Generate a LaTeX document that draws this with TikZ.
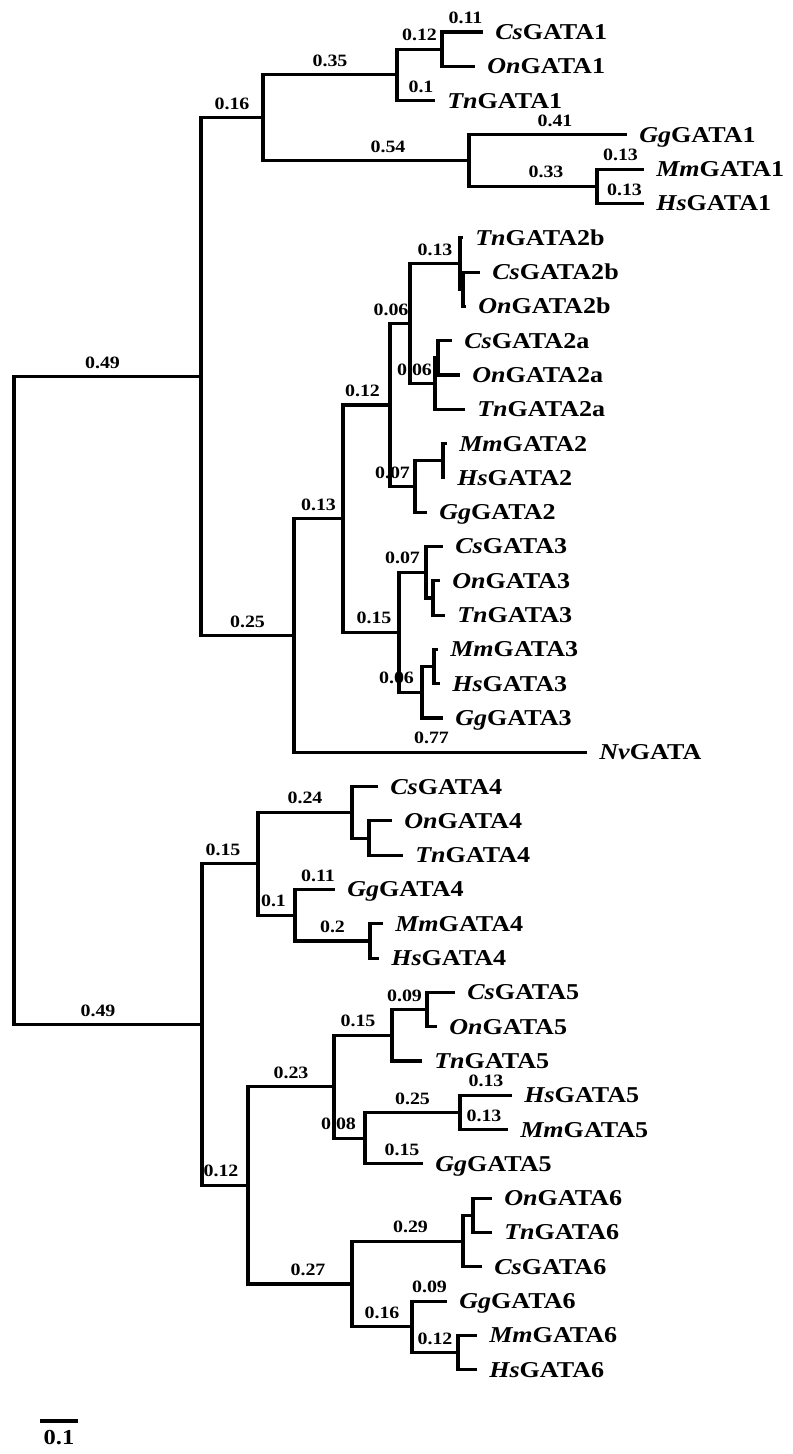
\documentclass[tikz,border=0pt]{standalone}
\usepackage{fontspec}
\setmainfont{Liberation Serif}[FakeStretch=1.15]
\usepackage{tikz}

\begin{document}
\begin{tikzpicture}[x=0.75pt,y=-0.75pt,
  br/.style={line width=2.3pt},
  leaf/.style={anchor=base west,inner sep=0pt,xshift=9pt,yshift=-5.6pt,font=\fontsize{17}{20}\selectfont\bfseries},
  bl/.style={font=\fontsize{13}{15}\selectfont\bfseries,inner sep=0pt,above=5pt,pos=0.75}]
\fill[white] (0,0) rectangle (793,1454);
% internal nodes
\foreach \n/\x/\y in %
{root/14/700.6, A/201/376.6, B/263/117.8, C/397/74.9, D/442/49.2,
 E/469/160.6, F/597/186.4, U/294/635.5, G/343/518.6, H/390/405.0,
 I/410/323.6, J/460/263.5, K/463/289.3, L/435/383.6, M/438/357.9,
 N/415/486.5, O/443/460.8, P/399/632.3, Q/426/572.2, R/433/598.0,
 S/422/692.3, T/434/666.6, V/202/1024.6, W/258/863.8, X/352/812.3,
 Y/369/838.1, Z/295/915.2, AA/370/941.0, VV/248/1185.4, BB/334/1086.8,
 CC/392/1035.3, DD/427/1009.6, EE/365/1138.2, FF/460/1112.5, GG/352/1284.0,
 HH/463/1241.1, II/473/1215.4, JJ/412/1326.8, KK/458/1352.6} {
   \coordinate (\n) at (\x,\y);
}
% leaves
\foreach \n/\x/\y/\pre/\num in %
{cs1/483/32.0/Cs/1, on1/475/66.3/On/1, tn1/435/100.6/Tn/1,
 gg1/627/134.9/Gg/1, mm1/644/169.2/Mm/1, hs1/644/203.5/Hs/1,
 tn2b/463/237.8/Tn/2b, cs2b/480/272.1/Cs/2b, on2b/466/306.4/On/2b,
 cs2a/452/340.7/Cs/2a, on2a/460/375.0/On/2a, tn2a/465/409.3/Tn/2a,
 mm2/447/443.6/Mm/2, hs2/445/477.9/Hs/2, gg2/427/512.2/Gg/2,
 cs3/443/546.5/Cs/3, on3/440/580.8/On/3, tn3/445/615.1/Tn/3,
 mm3/438/649.4/Mm/3, hs3/440/683.7/Hs/3, gg3/443/718.0/Gg/3,
 nv/587/752.3/Nv/{},
 cs4/378/786.6/Cs/4, on4/392/820.9/On/4, tn4/403/855.2/Tn/4,
 gg4/335/889.5/Gg/4, mm4/383/923.8/Mm/4, hs4/379/958.1/Hs/4,
 cs5/455/992.4/Cs/5, on5/437/1026.7/On/5, tn5/422/1061.0/Tn/5,
 hs5/512/1095.3/Hs/5, mm5/508/1129.6/Mm/5, gg5/423/1163.9/Gg/5,
 on6/492/1198.2/On/6, tn6/492/1232.5/Tn/6, cs6/482/1266.8/Cs/6,
 gg6/447/1301.1/Gg/6, mm6/477/1335.4/Mm/6, hs6/477/1369.7/Hs/6} {
   \coordinate (\n) at (\x,\y);
   \node[leaf] (\n-l) at (\n) {\textit{\pre}GATA\num};
}
% branches
\foreach \p/\c/\l/\s in %
{root/A/0.49/-5, root/V/0.49/-10, A/B/0.16/0, A/U/0.25/0,
 B/C/0.35/0, B/E/0.54/22, C/D/0.12/0, C/tn1/0.1/5, D/cs1/0.11/3, D/on1//0,
 E/gg1/0.41/7, E/F/0.33/13, F/mm1/0.13/0, F/hs1/0.13/4,
 U/G/0.13/0, U/nv/0.77/-9, G/H/0.12/-4, G/P/0.15/3,
 H/I/0.06/-9, H/N/0.07/-10, I/J/0.13/0, I/L/0.06/-8,
 J/tn2b//0, J/K//0, K/cs2b//0, K/on2b//0,
 L/M//0, L/tn2a//0, M/cs2a//0, M/on2a//0,
 N/O//0, N/gg2//0, O/mm2//0, O/hs2//0,
 P/Q/0.07/-10, P/S/0.06/-14,
 Q/cs3//0, Q/R//0, R/on3//0, R/tn3//0,
 S/T//0, S/gg3//0, T/mm3//0, T/hs3//0,
 V/W/0.15/-7, V/VV/0.12/-4, W/X/0.24/0, W/Z/0.1/-3,
 X/cs4//0, X/Y//0, Y/on4//0, Y/tn4//0,
 Z/gg4/0.11/3, Z/AA/0.2/0, AA/mm4//0, AA/hs4//0,
 VV/BB/0.23/0, VV/GG/0.27/8, BB/CC/0.15/-5, BB/EE/0.08/-11,
 CC/DD/0.09/-5, CC/tn5//0, DD/cs5//0, DD/on5//0,
 EE/FF/0.25/0, EE/gg5/0.15/8, FF/hs5/0.13/0, FF/mm5/0.13/0,
 GG/HH/0.29/3, GG/JJ/0.16/0, HH/II//0, HH/cs6//0, II/on6//0, II/tn6//0,
 JJ/gg6/0.09/0, JJ/KK/0.12/0, KK/mm6//0, KK/hs6//0} {
   \draw[br] (\p) |- node[bl,xshift={0.75*(\s)}]{\l} (\c);
}
% scale bar
\coordinate (sb1) at (40,1421);
\coordinate (sb2) at (78,1421);
\draw[br] (sb1) -- (sb2);
\node[font=\fontsize{16}{18}\selectfont\bfseries,anchor=north,inner sep=0pt] (sbl) at (59,1430) {0.1};
\end{tikzpicture}
\end{document}
